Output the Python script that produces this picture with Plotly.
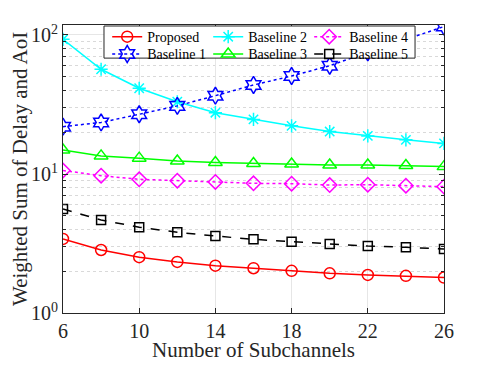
import numpy as np
import plotly.graph_objects as go

# Number of subchannels
subchannels = [6, 8, 10, 12, 14, 16, 18, 20, 22, 24, 26]

# Weighted sum of delay and AoI
proposed = [3.41, 2.84, 2.52, 2.33, 2.19, 2.10, 2.01, 1.93, 1.88, 1.85, 1.80]
baseline1 = [21.9, 23.5, 26.9, 30.9, 36.6, 43.7, 50.7, 60.1, 75.0, 93.0, 115.0]
baseline2 = [93.0, 56.7, 41.4, 33.1, 27.6, 24.7, 22.2, 20.2, 18.8, 17.6, 16.6]
baseline3 = [14.9, 13.5, 13.0, 12.4, 12.1, 11.9, 11.8, 11.6, 11.6, 11.5, 11.3]
baseline4 = [10.6, 9.72, 9.16, 8.95, 8.76, 8.57, 8.52, 8.33, 8.38, 8.24, 8.11]
baseline5 = [5.60, 4.67, 4.14, 3.81, 3.58, 3.39, 3.26, 3.14, 3.03, 2.97, 2.89]

y_ticks = [1, 10, 100]
y_ticktext = ["10<sup>0</sup>", "10<sup>1</sup>", "10<sup>2</sup>"]

FONT = "'Liberation Serif', 'Times New Roman', serif"
AXIS_COLOR = "#262626"

# two legend rows, like the 3-column matlab legend
series = [
    ("Proposed", proposed, "#FF0000", "solid", "circle-open", 11, "legend"),
    ("Baseline 2", baseline2, "#00FFFF", "solid", "asterisk-open", 11, "legend"),
    ("Baseline 4", baseline4, "#FF00FF", "dot", "diamond-open", 11, "legend"),
    ("Baseline 1", baseline1, "#0000FF", "dot", "hexagram-open", 13, "legend2"),
    ("Baseline 3", baseline3, "#00FF00", "solid", "triangle-up-open", 12, "legend2"),
    ("Baseline 5", baseline5, "#000000", "dash", "square-open", 9, "legend2"),
]

fig = go.Figure()
for name, vals, color, dash, symbol, size, leg in series:
    fig.add_trace(go.Scatter(
        x=subchannels,
        y=vals,
        mode="lines+markers",
        name=name,
        legend=leg,
        line=dict(color=color, width=1.5, dash=dash),
        marker=dict(symbol=symbol, size=size, color=color,
                    line=dict(color=color, width=1.5)),
    ))

legend_style = dict(
    orientation="h",
    xanchor="left", yanchor="middle",
    entrywidth=56,
    bgcolor="rgba(0,0,0,0)",
    borderwidth=0,
    font=dict(family=FONT, size=14, color="#000000"),
    itemwidth=30,
)

# the page body has an 8px margin, so the figure is 8px smaller than the window
fig.update_layout(
    width=483,
    height=360,
    margin=dict(l=55, r=47, t=17, b=55),
    paper_bgcolor="white",
    plot_bgcolor="white",
    font=dict(family=FONT, color=AXIS_COLOR),
    legend=dict(x=0.116, y=0.958, **legend_style),
    legend2=dict(x=0.116, y=0.898, **legend_style),
    shapes=[dict(
        type="rect", xref="paper", yref="paper",
        x0=0.1076, x1=0.924, y0=0.885, y1=0.9965,
        fillcolor="white", line=dict(color=AXIS_COLOR, width=1), layer="above",
    )],
    annotations=[
        dict(text="Number of Subchannels", xref="paper", yref="paper",
             x=0.5, y=-0.13, xanchor="center", yanchor="middle", showarrow=False,
             font=dict(family=FONT, size=21, color=AXIS_COLOR)),
        dict(text="Weighted Sum of Delay and AoI", xref="paper", yref="paper",
             x=-0.113, y=0.5, xanchor="center", yanchor="middle", showarrow=False,
             textangle=-90, font=dict(family=FONT, size=21, color=AXIS_COLOR)),
    ],
)

fig.update_xaxes(
    range=[6, 26],
    tickvals=[6, 10, 14, 18, 22, 26],
    ticks="inside",
    ticklen=5,
    tickcolor=AXIS_COLOR,
    showline=True,
    linecolor=AXIS_COLOR,
    linewidth=1,
    mirror="ticks",
    showgrid=True,
    gridcolor="#e6e6e6",
    zeroline=False,
    tickfont=dict(family=FONT, size=20, color=AXIS_COLOR),
)

fig.update_yaxes(
    type="log",
    range=[0, np.log10(118)],
    tickvals=y_ticks,
    ticktext=y_ticktext,
    ticks="inside",
    ticklen=5,
    tickcolor=AXIS_COLOR,
    showline=True,
    linecolor=AXIS_COLOR,
    linewidth=1,
    mirror="ticks",
    showgrid=True,
    gridcolor="#e6e6e6",
    zeroline=False,
    minor=dict(dtick="D1", ticks="inside", ticklen=3, tickcolor=AXIS_COLOR,
               showgrid=True, gridcolor="#d9d9d9", griddash="dot"),
    tickfont=dict(family=FONT, size=20, color=AXIS_COLOR),
)

fig.write_html("out.html")
